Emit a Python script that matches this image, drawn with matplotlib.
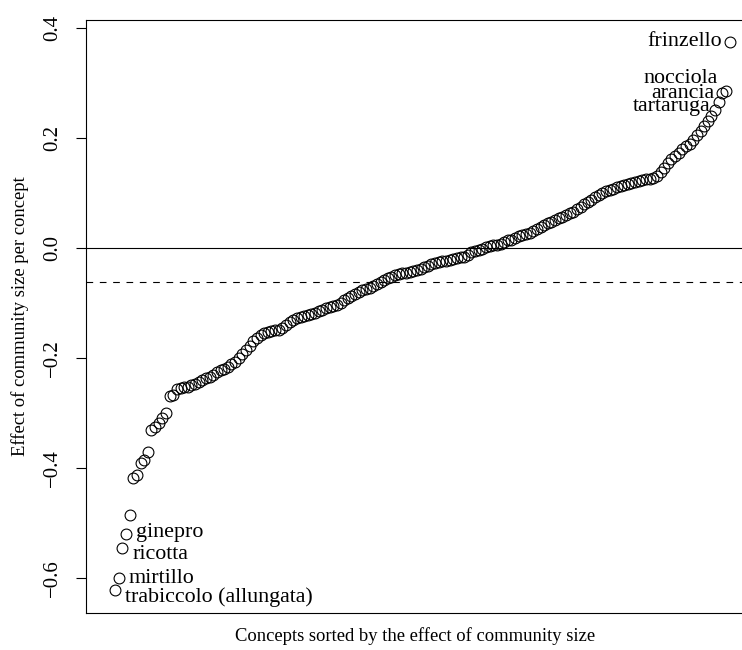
import matplotlib
matplotlib.use("Agg")
import matplotlib.pyplot as plt
import numpy as np

plt.rcParams['font.family'] = ['Liberation Serif', 'DejaVu Serif']

# effect of community size per concept, sorted ascending
effects = [
    -0.622, -0.600, -0.545, -0.520, -0.485, -0.418, -0.413, -0.390, -0.385, -0.370,
    -0.331, -0.325, -0.318, -0.309, -0.300, -0.269, -0.267, -0.256, -0.254, -0.253,
    -0.252, -0.249, -0.247, -0.244, -0.240, -0.237, -0.235, -0.231, -0.225, -0.222,
    -0.220, -0.216, -0.211, -0.207, -0.200, -0.193, -0.185, -0.178, -0.169, -0.164,
    -0.158, -0.155, -0.152, -0.151, -0.150, -0.149, -0.145, -0.140, -0.135, -0.131,
    -0.127, -0.125, -0.124, -0.122, -0.120, -0.118, -0.115, -0.113, -0.110, -0.107,
    -0.105, -0.104, -0.100, -0.095, -0.091, -0.087, -0.083, -0.080, -0.076, -0.075,
    -0.072, -0.069, -0.065, -0.062, -0.058, -0.055, -0.053, -0.050, -0.047, -0.045,
    -0.045, -0.044, -0.042, -0.040, -0.038, -0.035, -0.033, -0.030, -0.027, -0.025,
    -0.024, -0.023, -0.022, -0.020, -0.019, -0.017, -0.016, -0.012, -0.008, -0.005,
    -0.004, -0.001, 0.001, 0.003, 0.005, 0.006, 0.008, 0.011, 0.014, 0.015,
    0.018, 0.021, 0.024, 0.025, 0.028, 0.031, 0.035, 0.038, 0.042, 0.045,
    0.048, 0.051, 0.055, 0.057, 0.060, 0.063, 0.066, 0.071, 0.075, 0.080,
    0.084, 0.087, 0.092, 0.096, 0.100, 0.103, 0.105, 0.107, 0.110, 0.113,
    0.115, 0.116, 0.118, 0.120, 0.122, 0.123, 0.125, 0.126, 0.128, 0.131,
    0.138, 0.145, 0.155, 0.162, 0.167, 0.173, 0.180, 0.185, 0.189, 0.196,
    0.205, 0.213, 0.222, 0.231, 0.240, 0.251, 0.265, 0.282, 0.285, 0.375,
]
mean_effect = -0.062

# labelled concepts: rank index, name, label height
low_idx = [0, 1, 2, 3]
low_names = ['trabiccolo (allungata)', 'mirtillo', 'ricotta', 'ginepro']
low_text_y = [-0.635, -0.600, -0.558, -0.518]

high_idx = [169, 168, 167, 166]
high_names = ['frinzello', 'nocciola', 'arancia', 'tartaruga']
high_text_y = [0.376, 0.308, 0.281, 0.258]

n = len(effects)
ranks = np.arange(n)

fig = plt.figure(figsize=(7.42, 6.5), dpi=100)
ax = fig.add_axes([86/742, 1 - 613/650, 1 - 86/742 + 0.002, (613 - 20)/650])

ax.plot(ranks, effects, 'o', mfc='none', mec='black', ms=7.8, mew=0.8)
ax.axhline(0, color='black', lw=0.8)
ax.axhline(mean_effect, color='black', lw=0.8, linestyle=(0, (6, 6)))

fs_text = 15.8
fs_axis = 13.4
for i, name, ty in zip(low_idx, low_names, low_text_y):
    ax.text(i + 2.7, ty, name, ha='left', va='center', fontsize=fs_text)
for i, name, ty in zip(high_idx, high_names, high_text_y):
    ax.text(i - 2.2, ty, name, ha='right', va='center', fontsize=fs_text)

ax.set_xlim(-8.0, 172.8)
ax.set_ylim(-0.6636, 0.4145)
ax.set_xticks([])
ax.set_yticks([-0.6, -0.4, -0.2, 0.0, 0.2, 0.4])
ax.set_yticklabels(['\u22120.6', '\u22120.4', '\u22120.2', '0.0', '0.2', '0.4'],
                   rotation=90, va='center', fontsize=15)
ax.tick_params(axis='y', direction='out', length=7, width=0.8, pad=10)
ax.spines['right'].set_visible(False)
for s in ['left', 'top', 'bottom']:
    ax.spines[s].set_linewidth(0.8)

ax.set_xlabel('Concepts sorted by the effect of community size', fontsize=fs_axis, labelpad=10)
ax.set_ylabel('Effect of community size per concept', fontsize=fs_axis, labelpad=10)

fig.savefig('out.png', dpi=100)
